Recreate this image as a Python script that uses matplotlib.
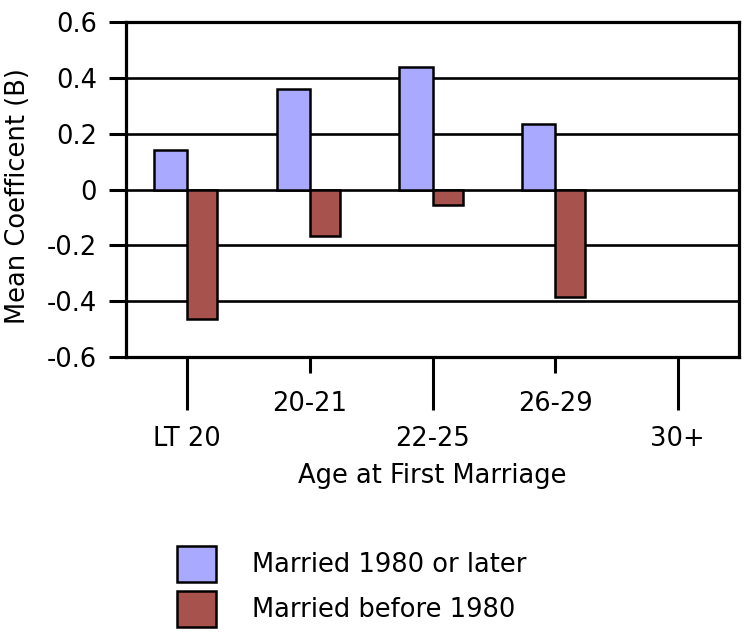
import numpy as np
import matplotlib
matplotlib.use('Agg')
import matplotlib.pyplot as plt
from matplotlib.patches import Patch

# Daten
categories = ['LT 20', '20-21', '22-25', '26-29', '30+']
married_1980_or_later = [0.14, 0.36, 0.44, 0.235]
married_before_1980 = [-0.465, -0.165, -0.055, -0.385]
y_ticks = [0.6, 0.4, 0.2, 0, -0.2, -0.4, -0.6]
y_tick_labels = ['0.6', '0.4', '0.2', '0', '-0.2', '-0.4', '-0.6']

blue = '#A9A9FF'
red = '#A8524E'
fs = 18.5

plt.rcParams['font.family'] = 'DejaVu Sans'

fig = plt.figure(figsize=(7.5, 6.38), dpi=100)
ax = fig.add_axes([126 / 750, 1 - 357 / 638, (739 - 126) / 750, (357 - 22) / 638])

x = np.arange(len(married_1980_or_later))
ax.bar(x, married_1980_or_later, width=-0.27, align='edge', color=blue,
       edgecolor='black', linewidth=1.8, zorder=3)
ax.bar(x, married_before_1980, width=0.245, align='edge', color=red,
       edgecolor='black', linewidth=1.8, zorder=3)

# horizontale Linien
for yv in y_ticks:
    ax.axhline(yv, color='black', linewidth=1.9, zorder=1)

ax.set_xlim(-0.5, len(categories) - 0.5)
ax.set_ylim(-0.6, 0.6)
ax.set_yticks(y_ticks)
ax.set_yticklabels(y_tick_labels)

# x-Achse: abwechselnd lange und kurze Striche
ax.set_xticks(np.arange(0, len(categories), 2))
ax.set_xticklabels(categories[0::2])
ax.set_xticks(np.arange(1, len(categories), 2), minor=True)
ax.set_xticklabels(categories[1::2], minor=True)

ax.tick_params(axis='x', which='major', length=38, width=2.2, pad=11.5, labelsize=fs)
ax.tick_params(axis='x', which='minor', length=11.5, width=2.2, pad=13, labelsize=fs)
ax.tick_params(axis='y', length=12, width=2.2, pad=9, labelsize=fs)

for sp in ax.spines.values():
    sp.set_linewidth(2.3)

ax.set_xlabel('Age at First Marriage', fontsize=fs)
ax.xaxis.set_label_coords(0.5, -0.315)
ax.set_ylabel('Mean Coefficent (B)', fontsize=fs)
ax.yaxis.set_label_coords(-0.155, 0.48)

handles = [Patch(facecolor=blue, edgecolor='black', linewidth=1.8, label='Married 1980 or later'),
           Patch(facecolor=red, edgecolor='black', linewidth=1.8, label='Married before 1980')]
fig.legend(handles=handles, loc='upper left', bbox_to_anchor=(177 / 750, 1 - 546 / 638),
           frameon=False, fontsize=fs, borderpad=0, borderaxespad=0,
           handlelength=1.52, handleheight=1.78, handletextpad=1.4, labelspacing=0.35)

fig.savefig('out.png', dpi=100)
